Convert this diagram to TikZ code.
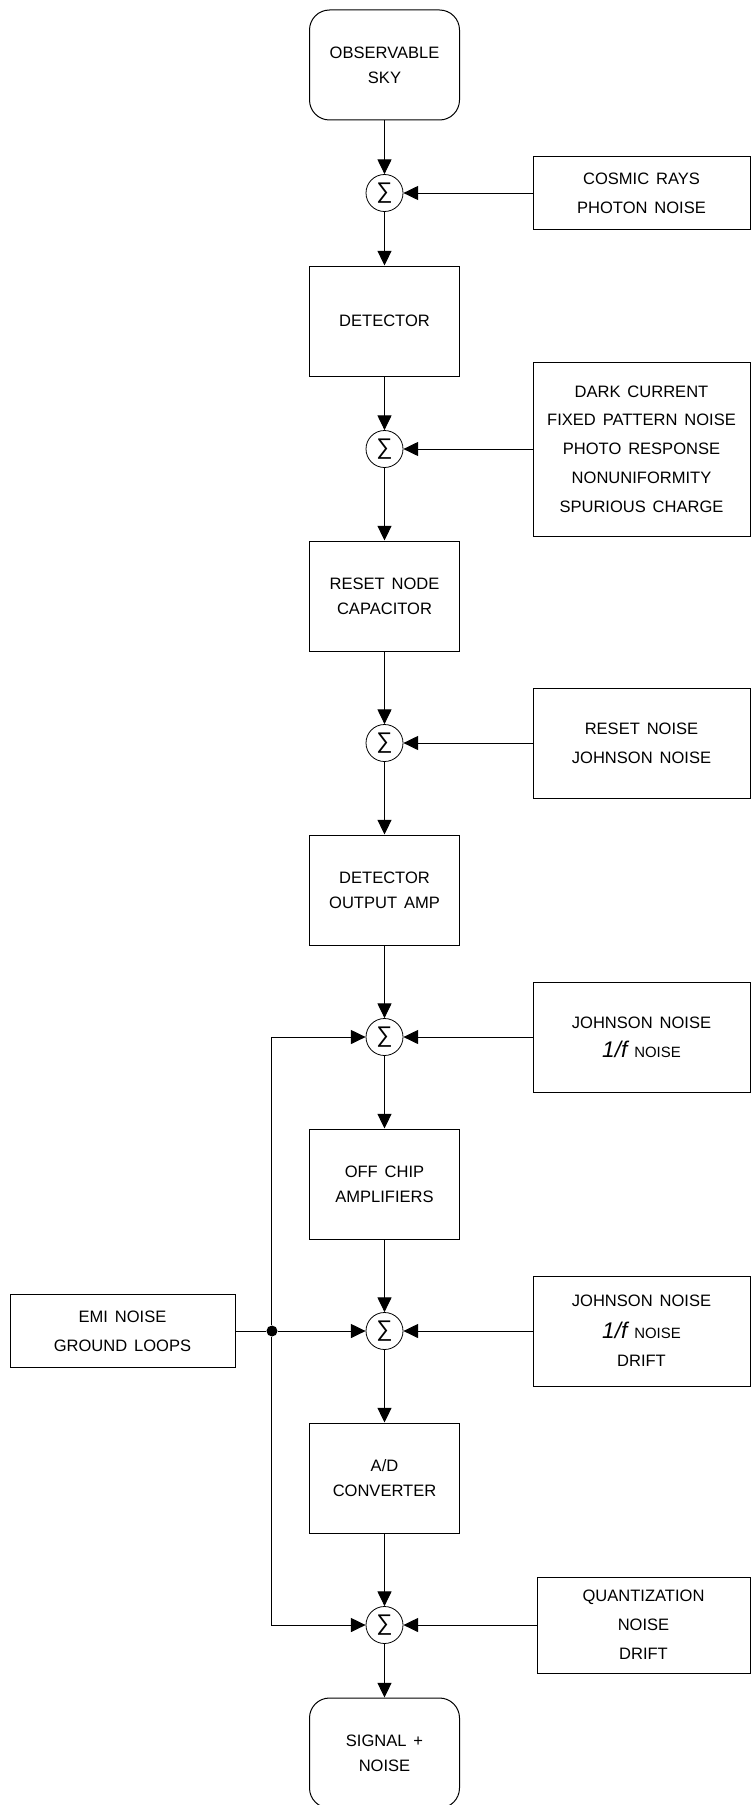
\documentclass[tikz,border=0pt]{standalone}
\usepackage{fontspec}
\setmainfont{Liberation Sans}[WordSpace=1.5]
\usetikzlibrary{positioning, arrows.meta}
\tikzset{
  flow/.style={
	->, % directed connectors
	>={Triangle[length=11pt, width=10.5pt]}, % solid heads
	line width=0.75pt,
	node distance=110.25pt, % centre to centre in the main column
  },
  block/.style={draw, line width=0.75pt, minimum width=112.5pt, minimum height=82.5pt, align=center, font=\fontsize{12.4}{18.75}\selectfont},
  terminal/.style={block, rounded corners=15pt},
  source/.style={draw, line width=0.75pt, minimum width=162.75pt, minimum height=82.5pt, align=center, font=\fontsize{12.4}{21.6}\selectfont},
  summer/.style={draw, circle, line width=0.6pt, minimum size=27.75pt, inner sep=0pt, font=\fontsize{17}{17}\selectfont},
  junction/.style={fill, circle, minimum size=8.25pt, inner sep=0pt},
}
\newcommand{\oneoverf}{{\fontsize{17}{16}\selectfont\itshape 1/f} {\fontsize{11.2}{12}\selectfont NOISE}}

\begin{document}
\begin{tikzpicture}[flow, x=0.75pt, y=0.75pt]
	\useasboundingbox (0,0) rectangle (751,-1805);
	% main column
	\node[terminal] (sky) at (384.5,-65) {OBSERVABLE\\SKY};
	\node[summer, below of=sky, yshift=14.25pt] (s1) {∑};
	\node[block, below of=s1, yshift=14.25pt] (det) {DETECTOR};
	\node[summer, below of=det, yshift=14.25pt] (s2) {∑};
	\node[block, below of=s2] (reset) {RESET NODE\\CAPACITOR};
	\node[summer, below of=reset] (s3) {∑};
	\node[block, below of=s3] (amp) {DETECTOR\\OUTPUT AMP};
	\node[summer, below of=amp] (s4) {∑};
	\node[block, below of=s4] (offchip) {OFF CHIP\\AMPLIFIERS};
	\node[summer, below of=offchip] (s5) {∑};
	\node[block, below of=s5] (adc) {A/D\\CONVERTER};
	\node[summer, below of=adc] (s6) {∑};
	\node[terminal, below of=s6, yshift=14.25pt] (out) {SIGNAL +\\NOISE};

	% noise sources
	\node[source, minimum height=54.75pt, right of=s1, xshift=82.5pt] (cosmic) {COSMIC RAYS\\PHOTON NOISE};
	\node[source, minimum height=130.5pt, right of=s2, xshift=82.5pt] (dark) {DARK CURRENT\\FIXED PATTERN NOISE\\PHOTO RESPONSE\\NONUNIFORMITY\\SPURIOUS CHARGE};
	\node[source, right of=s3, xshift=82.5pt] (resetnoise) {RESET NOISE\\JOHNSON NOISE};
	\node[source, right of=s4, xshift=82.5pt] (ampnoise) {JOHNSON NOISE\\\oneoverf};
	\node[source, right of=s5, xshift=82.5pt] (chipnoise) {JOHNSON NOISE\\[2pt]\oneoverf\\DRIFT};
	\node[source, minimum width=159.75pt, minimum height=72pt, right of=s6, xshift=84pt] (quant) {QUANTIZATION\\NOISE\\DRIFT};
	\node[source, minimum width=168.75pt, minimum height=54.75pt, left of=s5, xshift=-86.25pt] (emi) {EMI NOISE\\GROUND LOOPS};
	\node[junction, left of=s5, node distance=84.4pt] (j) {};

	\draw	(sky) edge (s1)
		(s1) edge (det)
		(det) edge (s2)
		(s2) edge (reset)
		(reset) edge (s3)
		(s3) edge (amp)
		(amp) edge (s4)
		(s4) edge (offchip)
		(offchip) edge (s5)
		(s5) edge (adc)
		(adc) edge (s6)
		(s6) edge (out)
		(cosmic) edge (s1)
		(dark) edge (s2)
		(resetnoise) edge (s3)
		(ampnoise) edge (s4)
		(chipnoise) edge (s5)
		(quant) edge (s6)
		(emi) edge[-] (j)
		(j) edge (s5)
	;
	\draw (j) |- (s4);
	\draw (j) |- (s6);
\end{tikzpicture}
\end{document}
